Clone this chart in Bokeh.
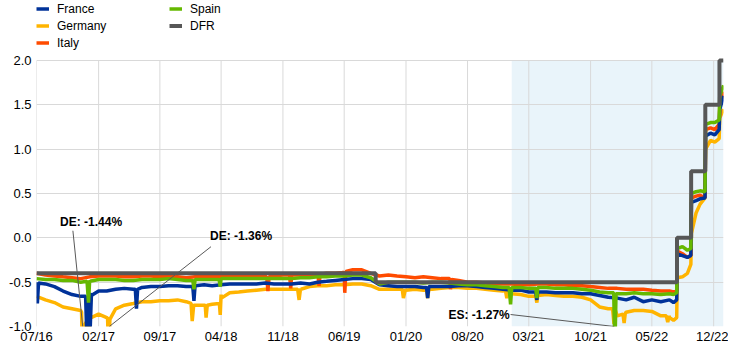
import pandas as pd
from bokeh.plotting import figure
from bokeh.models import (Range1d, FixedTicker, DatetimeTickFormatter, PrintfTickFormatter,
                          BoxAnnotation, Legend, LegendItem, Label, ColumnDataSource)
from bokeh.embed import file_html
from bokeh.resources import INLINE

# ---------------- data ----------------
monthly_dates = pd.date_range("2016-07-01", "2022-06-01", freq="MS")  # 72 months
late_dates = ["2022-07-01", "2022-07-15", "2022-07-26", "2022-07-28", "2022-08-15", "2022-09-01",
              "2022-09-13", "2022-09-15", "2022-10-01", "2022-10-15", "2022-11-01", "2022-11-03",
              "2022-11-20", "2022-12-05", "2022-12-20", "2022-12-22", "2023-01-04"]

germany_monthly = [-0.66, -0.70, -0.73, -0.78, -0.80, -0.82,
                   -0.86, -0.86, -0.90, -0.80, -0.76, -0.74,
                   -0.72, -0.72, -0.71, -0.71, -0.70, -0.72,
                   -0.76, -0.76, -0.75, -0.64, -0.62, -0.61,
                   -0.60, -0.59, -0.58, -0.58, -0.58, -0.58,
                   -0.57, -0.55, -0.54, -0.54, -0.53, -0.53,
                   -0.52, -0.52, -0.54, -0.58, -0.58, -0.58,
                   -0.59, -0.58, -0.59, -0.58, -0.57, -0.56,
                   -0.56, -0.57, -0.57, -0.58, -0.59, -0.60,
                   -0.63, -0.64, -0.66, -0.65, -0.64, -0.65,
                   -0.66, -0.66, -0.67, -0.70, -0.78, -0.80,
                   -0.88, -0.84, -0.82, -0.82, -0.83, -0.88]
france_monthly = [-0.50, -0.52, -0.55, -0.60, -0.64, -0.66,
                  -0.62, -0.60, -0.60, -0.58, -0.57, -0.58,
                  -0.56, -0.55, -0.55, -0.54, -0.54, -0.55,
                  -0.53, -0.53, -0.54, -0.53, -0.52, -0.52,
                  -0.52, -0.52, -0.51, -0.52, -0.52, -0.52,
                  -0.51, -0.52, -0.50, -0.49, -0.48, -0.47,
                  -0.46, -0.46, -0.47, -0.53, -0.54, -0.55,
                  -0.55, -0.55, -0.56, -0.55, -0.55, -0.55,
                  -0.54, -0.54, -0.55, -0.56, -0.57, -0.58,
                  -0.59, -0.59, -0.61, -0.61, -0.61, -0.62,
                  -0.62, -0.62, -0.63, -0.63, -0.65, -0.67,
                  -0.68, -0.70, -0.67, -0.72, -0.70, -0.72]
italy_monthly = [-0.40, -0.42, -0.43, -0.44, -0.45, -0.46,
                 -0.44, -0.43, -0.43, -0.43, -0.44, -0.44,
                 -0.43, -0.43, -0.44, -0.44, -0.44, -0.45,
                 -0.44, -0.44, -0.44, -0.44, -0.43, -0.44,
                 -0.43, -0.43, -0.44, -0.43, -0.42, -0.42,
                 -0.42, -0.42, -0.41, -0.40, -0.40, -0.38,
                 -0.36, -0.36, -0.40, -0.43, -0.42, -0.43,
                 -0.44, -0.45, -0.44, -0.45, -0.46, -0.47,
                 -0.48, -0.50, -0.50, -0.51, -0.52, -0.52,
                 -0.52, -0.53, -0.53, -0.52, -0.52, -0.53,
                 -0.53, -0.54, -0.54, -0.55, -0.56, -0.57,
                 -0.57, -0.58, -0.58, -0.58, -0.59, -0.60]
spain_monthly = [-0.46, -0.47, -0.47, -0.48, -0.48, -0.50,
                 -0.48, -0.47, -0.47, -0.47, -0.48, -0.48,
                 -0.47, -0.47, -0.47, -0.46, -0.47, -0.48,
                 -0.47, -0.47, -0.47, -0.46, -0.46, -0.46,
                 -0.46, -0.46, -0.46, -0.46, -0.46, -0.46,
                 -0.45, -0.45, -0.44, -0.44, -0.43, -0.43,
                 -0.42, -0.42, -0.45, -0.52, -0.50, -0.50,
                 -0.50, -0.50, -0.51, -0.50, -0.50, -0.51,
                 -0.52, -0.53, -0.53, -0.54, -0.55, -0.56,
                 -0.56, -0.56, -0.57, -0.56, -0.56, -0.57,
                 -0.57, -0.57, -0.58, -0.59, -0.61, -0.62,
                 -0.63, -0.63, -0.62, -0.63, -0.63, -0.64]

germany_late = [-0.90, -0.93, -0.90, -0.45, -0.44, -0.40, -0.30, 0.05, 0.28, 0.38, 0.45,
                1.00, 1.10, 1.08, 1.12, 1.35, 1.45]
france_late = [-0.70, -0.73, -0.70, -0.18, -0.20, -0.22, -0.20, 0.40, 0.42, 0.44, 0.45,
               1.15, 1.18, 1.16, 1.22, 1.45, 1.60]
italy_late = [-0.60, -0.61, -0.60, -0.15, -0.18, -0.22, -0.20, 0.45, 0.47, 0.48, 0.45,
              1.22, 1.24, 1.22, 1.28, 1.50, 1.65]
spain_late = [-0.63, -0.64, -0.62, -0.12, -0.10, -0.14, -0.12, 0.50, 0.52, 0.53, 0.52,
              1.28, 1.30, 1.30, 1.33, 1.60, 1.72]

germany_spike_dates = ["2016-12-04", "2016-12-08", "2016-12-12", "2016-12-20", "2016-12-28", "2017-01-06",
                       "2017-03-04", "2017-03-08", "2017-03-12", "2017-12-18", "2017-12-22", "2017-12-27",
                       "2018-02-05", "2018-02-08", "2018-02-12", "2018-03-26", "2018-03-29", "2018-04-02",
                       "2018-12-22", "2018-12-27", "2019-01-02", "2019-12-19", "2019-12-23", "2019-12-30",
                       "2020-03-12", "2020-03-16", "2020-03-20", "2020-12-10", "2020-12-15", "2020-12-20",
                       "2021-03-25", "2021-03-29", "2021-04-02", "2021-12-16", "2021-12-21", "2021-12-26",
                       "2022-01-21", "2022-01-25", "2022-01-29", "2022-06-20", "2022-06-25", "2022-06-30"]
germany_spike_values = [-0.84, -1.44, -1.00, -0.95, -1.30, -0.90,
                        -0.90, -1.36, -0.92, -0.74, -0.94, -0.76,
                        -0.76, -0.90, -0.76, -0.74, -0.87, -0.68,
                        -0.58, -0.70, -0.58, -0.58, -0.68, -0.58,
                        -0.59, -0.68, -0.58, -0.59, -0.68, -0.60,
                        -0.66, -0.73, -0.65, -0.80, -0.97, -0.82,
                        -0.86, -0.96, -0.85, -0.88, -0.95, -0.88]
france_spike_dates = ["2016-07-04", "2016-07-08", "2016-12-18", "2016-12-22", "2016-12-27", "2017-01-02",
                      "2017-01-07", "2017-06-08", "2017-06-12", "2017-06-16", "2017-12-24", "2017-12-28",
                      "2018-01-02", "2020-03-12", "2020-03-16", "2020-03-20", "2021-03-25", "2021-03-29",
                      "2021-04-02"]
france_spike_values = [-0.74, -0.51, -0.66, -1.10, -0.75, -1.10,
                       -0.65, -0.58, -0.80, -0.58, -0.55, -0.71,
                       -0.54, -0.56, -0.68, -0.55, -0.61, -0.70,
                       -0.61]
italy_spike_dates = ["2018-09-06", "2018-09-10", "2018-09-14", "2018-11-24", "2018-11-28", "2018-12-02",
                     "2019-03-02", "2019-03-06", "2019-03-10", "2019-05-30", "2019-06-03", "2019-06-07",
                     "2020-05-30", "2020-06-03", "2020-06-07"]
italy_spike_values = [-0.44, -0.60, -0.44, -0.42, -0.57, -0.42,
                      -0.41, -0.54, -0.41, -0.39, -0.62, -0.38,
                      -0.46, -0.58, -0.47]
spain_spike_dates = ["2016-12-23", "2016-12-28", "2017-01-02", "2017-12-24", "2017-12-28", "2018-01-02",
                     "2018-03-25", "2018-03-29", "2018-04-02", "2020-12-23", "2020-12-28", "2021-01-02",
                     "2021-03-25", "2021-03-29", "2021-04-02", "2021-12-20", "2021-12-24", "2021-12-28"]
spain_spike_values = [-0.49, -0.73, -0.49, -0.48, -0.58, -0.47,
                      -0.47, -0.55, -0.46, -0.56, -0.75, -0.56,
                      -0.57, -0.68, -0.56, -0.62, -1.27, -0.63]

dfr_dates = ["2016-07-01", "2019-09-18", "2022-07-27", "2022-09-14", "2022-11-02", "2022-12-21", "2023-01-04"]
dfr_values = [-0.40, -0.50, 0.00, 0.75, 1.50, 2.00, 2.00]

x_tick_dates = ["2016-07-01", "2017-02-01", "2017-09-01", "2018-04-01", "2018-11-01", "2019-06-01",
                "2020-01-01", "2020-08-01", "2021-03-01", "2021-10-01", "2022-05-01", "2022-12-01"]
y_ticks = [-1.0, -0.5, 0.0, 0.5, 1.0, 1.5, 2.0]
y_min, y_max = -1.0, 2.0

shade_start = "2021-01-01"

ann_text = ["DE: -1.44%", "DE: -1.36%", "ES: -1.27%"]
ann_text_x = ["2017-01-06", "2018-06-09", "2020-09-10"]
ann_text_y = [0.18, 0.016, -0.865]
ann_line_x0 = ["2016-11-04", "2018-02-25", "2020-12-28"]
ann_line_y0 = [0.08, -0.10, -0.865]
ann_line_x1 = ["2016-12-08", "2017-03-10", "2021-12-22"]
ann_line_y1 = [-1.0, -1.0, -1.0]

# ---------------- layout ----------------
W, H = 728, 346
LEFT, RIGHT, BOTTOM = 36, 5, 20
TOP_SPACE = 60          # pixels above the 2.0 line kept for the legend
ROW = 17                # legend row pitch
frame_h = H - BOTTOM
px_per_unit = (frame_h - TOP_SPACE) / (y_max - y_min)
y_view_top = y_max + TOP_SPACE / px_per_unit

def ms(d):
    return pd.Timestamp(d).value / 1e6

def series(monthly, late, sdates, svals):
    d = list(monthly_dates) + [pd.Timestamp(x) for x in late_dates] + [pd.Timestamp(x) for x in sdates]
    v = list(monthly) + list(late) + list(svals)
    df = pd.DataFrame({"x": d, "y": v}).sort_values("x")
    return ColumnDataSource(df)

FONT = "Liberation Sans"

p = figure(width=W, height=H, x_axis_type="datetime", output_backend="svg", toolbar_location=None,
           x_range=Range1d(ms("2016-07-01"), ms("2023-01-04")), y_range=Range1d(y_min, y_view_top),
           min_border_left=LEFT, min_border_right=RIGHT, min_border_top=0, min_border_bottom=BOTTOM)
p.outline_line_color = None

# axes
p.xaxis.ticker = FixedTicker(ticks=[ms(d) for d in x_tick_dates])
p.xaxis.formatter = DatetimeTickFormatter(days="%m/%y", months="%m/%y", years="%m/%y", hours="%m/%y")
p.yaxis.ticker = FixedTicker(ticks=y_ticks)
p.yaxis.formatter = PrintfTickFormatter(format="%.1f")
for ax in (p.xaxis, p.yaxis):
    ax.axis_line_color = None
    ax.major_tick_line_color = None
    ax.minor_tick_line_color = None
    ax.major_tick_out = 0
    ax.major_tick_in = 0
    ax.minor_tick_out = 0
    ax.major_label_text_font = FONT
    ax.major_label_text_font_size = "13px"
    ax.major_label_text_color = "#000000"
p.xaxis.major_label_standoff = 2
p.yaxis.major_label_standoff = 5
p.ygrid.grid_line_color = "#d9d9d9"
p.xgrid.grid_line_color = None

shade = BoxAnnotation(left=ms(shade_start), top=y_max, bottom=y_min, fill_color="#e9f4fa",
                      fill_alpha=1.0, line_color=None, level="image")
p.add_layout(shade)

# vertical grid lines, limited to the value range
xt = pd.to_datetime(x_tick_dates)
p.segment(x0=xt, y0=[y_min] * len(xt), x1=xt, y1=[y_max] * len(xt),
          line_color="#d9d9d9", line_width=1, level="underlay")

r_de = p.line("x", "y", source=series(germany_monthly, germany_late, germany_spike_dates, germany_spike_values),
              line_color="#FFB400", line_width=3.5)
r_it = p.line("x", "y", source=series(italy_monthly, italy_late, italy_spike_dates, italy_spike_values),
              line_color="#FF4B00", line_width=3.5)
r_fr = p.line("x", "y", source=series(france_monthly, france_late, france_spike_dates, france_spike_values),
              line_color="#003299", line_width=3.5)
r_es = p.line("x", "y", source=series(spain_monthly, spain_late, spain_spike_dates, spain_spike_values),
              line_color="#65B800", line_width=3.5)
r_dfr = p.step(x=pd.to_datetime(dfr_dates), y=dfr_values, mode="after", line_color="#575757", line_width=4)

# annotations
p.segment(x0=pd.to_datetime(ann_line_x0), y0=ann_line_y0, x1=pd.to_datetime(ann_line_x1), y1=ann_line_y1,
          line_color="#595959", line_width=1)
for t, x, y in zip(ann_text, ann_text_x, ann_text_y):
    p.add_layout(Label(x=ms(x), y=y, text=t, text_font=FONT, text_font_size="12px",
                       text_font_style="bold", text_color="#000000",
                       text_align="center", text_baseline="middle"))

legend = Legend(items=[LegendItem(label="France", renderers=[r_fr]),
                       LegendItem(label="Germany", renderers=[r_de]),
                       LegendItem(label="Italy", renderers=[r_it]),
                       LegendItem(label="Spain", renderers=[r_es]),
                       LegendItem(label="DFR", renderers=[r_dfr])],
                nrows=3, orientation="vertical", location=(0, frame_h - 3 * ROW),
                glyph_width=13, glyph_height=ROW, label_height=ROW, label_width=112,
                spacing=0, padding=0, margin=0, label_standoff=8,
                border_line_color=None, background_fill_alpha=0,
                label_text_font=FONT, label_text_font_size="12px", label_text_color="#000000")
p.add_layout(legend)

open("out.html", "w").write(file_html(p, INLINE))
